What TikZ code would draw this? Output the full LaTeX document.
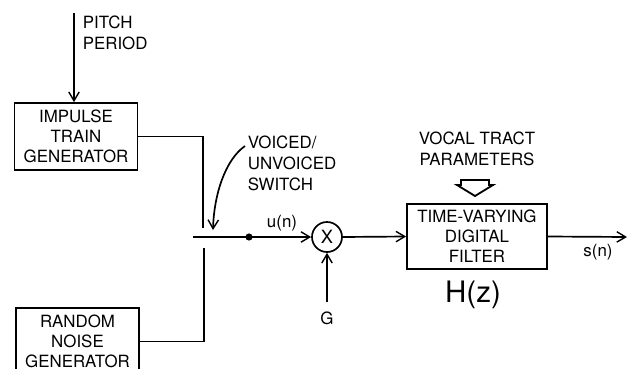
\documentclass[tikz,border=0pt]{standalone}
\usepackage{fontspec}
\setmainfont{TeX Gyre Heros}
\usepackage{tikz}
\usetikzlibrary{arrows.meta, positioning, calc}

\begin{document}
\begin{tikzpicture}[x=0.025cm, y=-0.025cm, line width=1.2pt,
    lbl/.style={font=\fontsize{12}{15}\selectfont, inner sep=0pt},
    blockbox/.style={draw, rectangle, align=center, minimum width=3.07cm,
                     minimum height=1.675cm, inner sep=2pt,
                     font=\fontsize{12}{14.2}\selectfont},
    sig/.style={-{Straight Barb[length=2.2mm, width=2.6mm, line width=1pt]}}]
  \useasboundingbox (0,0) rectangle (627,369);

  % --- Sources ---
  \node[blockbox] (impulse) at (76,136.5) {IMPULSE\\TRAIN\\GENERATOR};
  \node[blockbox, anchor=north] (noise) at (77.5,307) {RANDOM\\NOISE\\GENERATOR};
  \coordinate (pitchtop) at (74,13);
  \draw[sig] (pitchtop) -- (impulse.north -| pitchtop);
  \node[lbl, align=left, anchor=west] (pitch) at (82,33) {PITCH\\PERIOD};

  % --- Voiced/unvoiced switch ---
  \coordinate (swtop) at (203,228);
  \coordinate (swbot) at (204,248);
  \coordinate (swin) at (193,237);
  \draw (impulse.east) -| (swtop);
  \draw (noise.east) -| (swbot);
  \node[lbl, align=left, anchor=west] (switchlbl) at (247,163)
       {VOICED/\\UNVOICED\\SWITCH};
  \coordinate (swtip) at (213,230);
  \draw[sig] (245,146) .. controls (225,160) and (214,195) .. (swtip);

  % --- Gain ---
  \node[draw, circle, minimum size=0.75cm, inner sep=0pt,
        font=\fontsize{13}{15}\selectfont] (mult) at (327,237) {X};
  \node[fill, circle, inner sep=1.8pt] (dot) at (249,237) {};
  \draw[sig] (swin) -- (mult.west);
  \node[lbl] (un) at (282,223) {u(n)};
  \coordinate (gin) at (327,302);
  \draw[sig] (gin) -- (mult.south);
  \node[lbl] (glbl) at (327,318) {G};

  % --- Vocal tract filter ---
  \node[blockbox, minimum width=3.5cm, minimum height=1.625cm] (filter) at (477,236.5)
       {TIME-VARYING\\DIGITAL\\FILTER};
  \draw[sig] (mult.east) -- (filter.west);
  \node[lbl, align=center] (vocal) at (477,149) {VOCAL TRACT\\PARAMETERS};
  \draw[line width=1.3pt, line join=miter]
       (461,180) -- (489,180) -- (489,185) -- (493,185) -- (475,196)
       -- (457,185) -- (461,185) -- cycle;
  \node[font=\fontsize{21}{24}\selectfont, inner sep=0pt] (hz) at (473,295) {H(z)};
  \coordinate (out) at (627,237);
  \draw[sig] (filter.east) -- (out);
  \node[lbl] (sn) at (598,252) {s(n)};
\end{tikzpicture}
\end{document}
